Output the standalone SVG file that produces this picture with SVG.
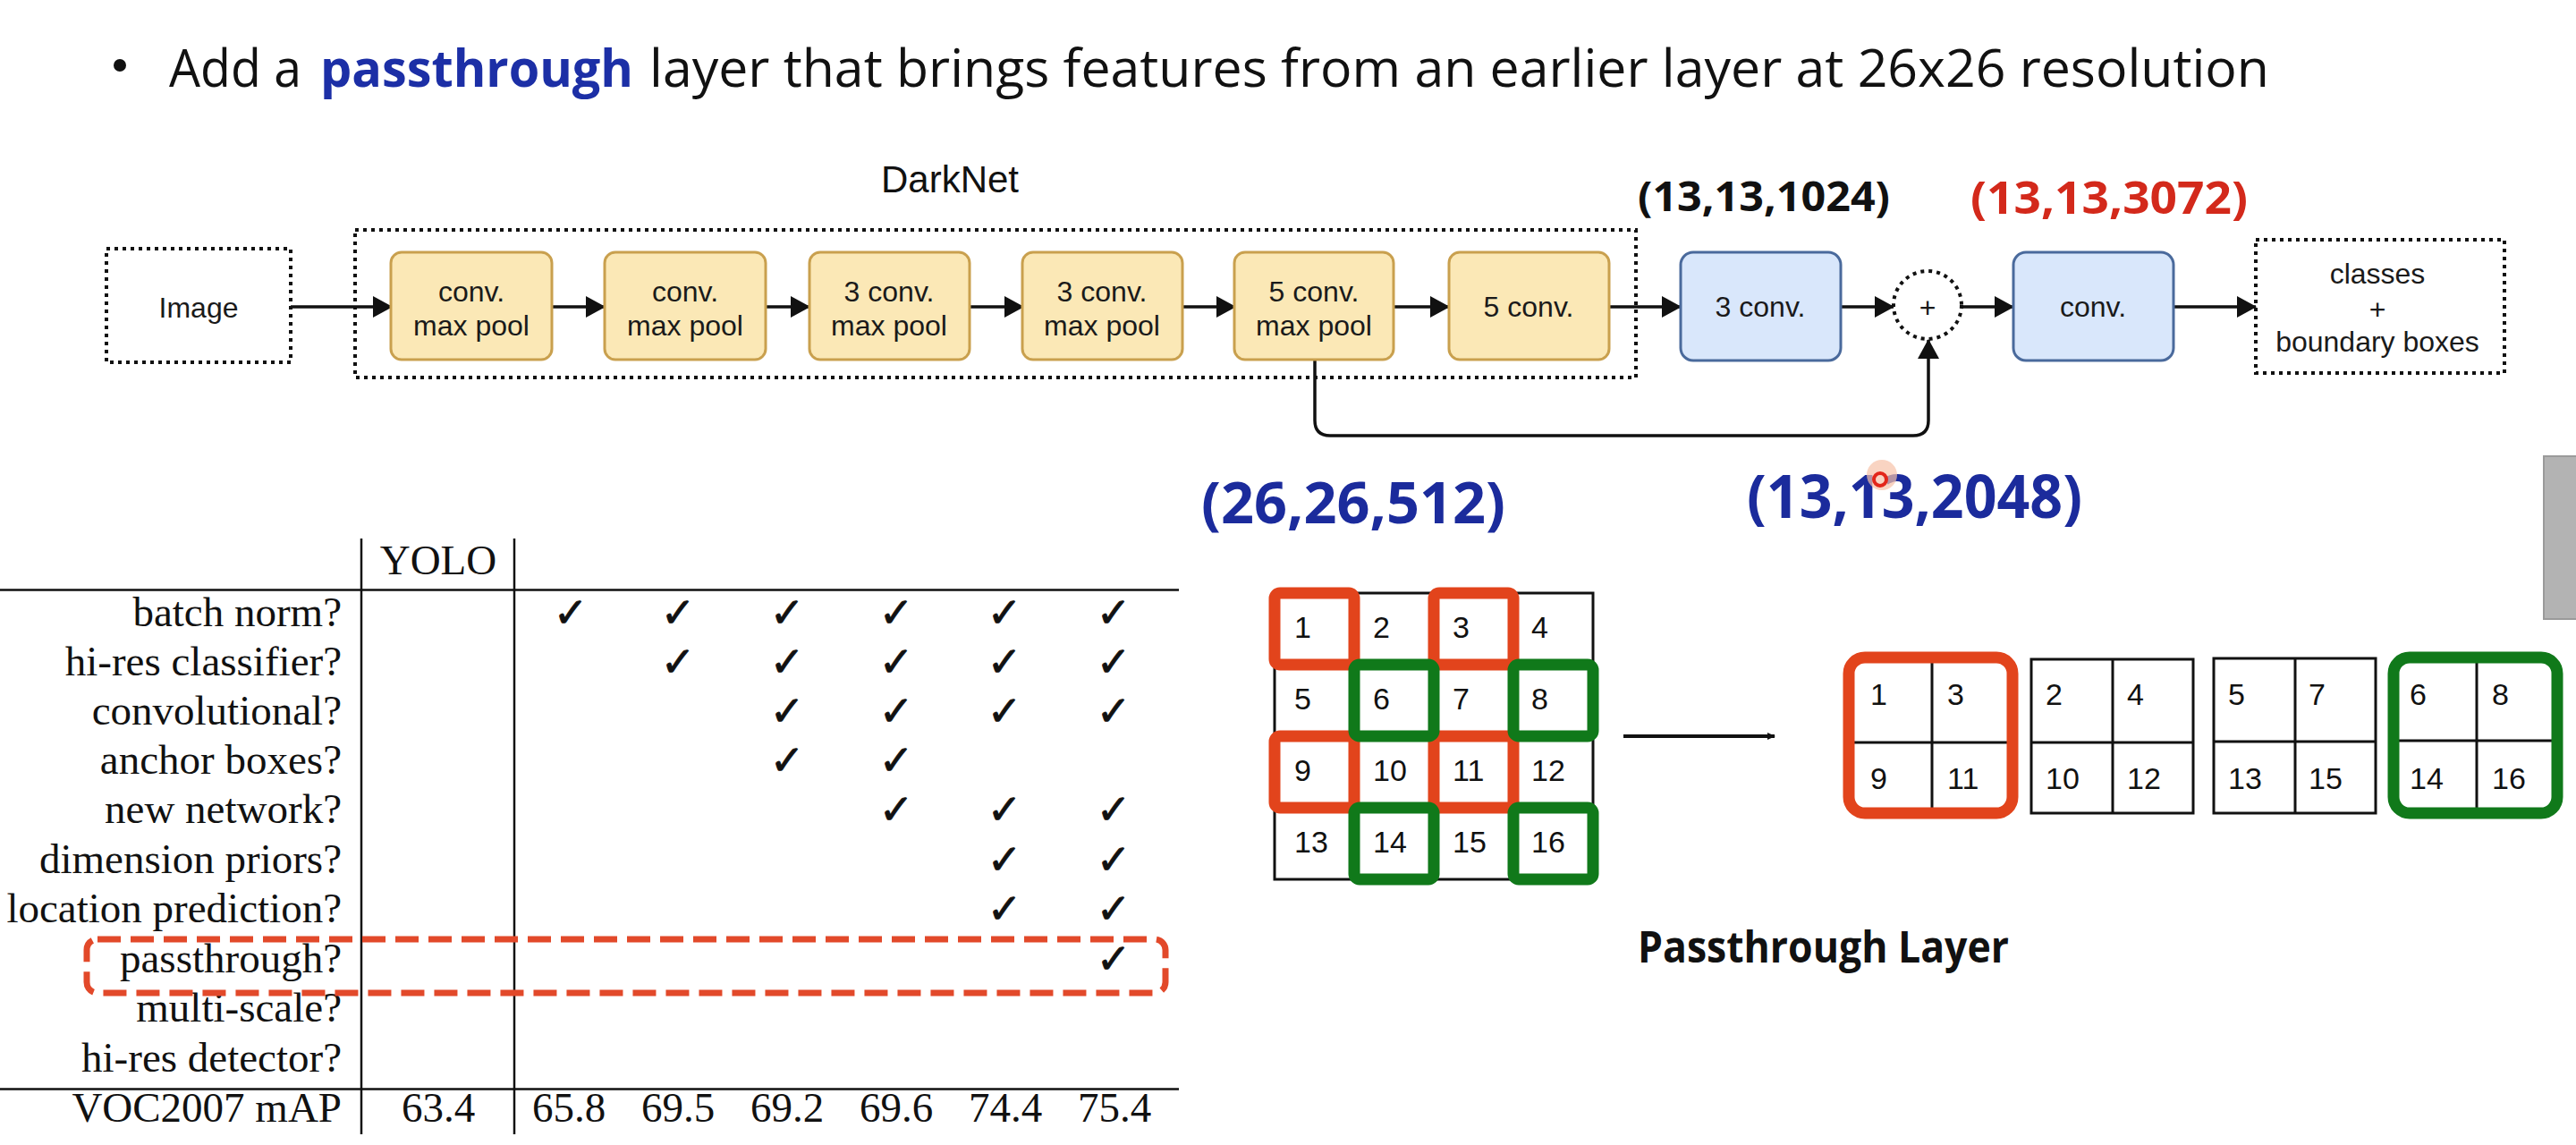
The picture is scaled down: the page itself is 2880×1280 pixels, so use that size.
<svg xmlns="http://www.w3.org/2000/svg" width="2880" height="1280" viewBox="0 0 2880 1280">
<defs>
<style>
.title{font-family:"Open Sans","Noto Sans",sans-serif;font-size:58px;fill:#111}
.blk{fill:#1c2fa6;font-weight:bold}
.lbl{font-family:"Liberation Sans",Arial,sans-serif;font-size:32px;fill:#1a1a1a;text-anchor:middle}
.dark{font-family:"Liberation Sans",Arial,sans-serif;font-size:42px;fill:#111;text-anchor:middle}
.dim{font-family:"Open Sans","Noto Sans",sans-serif;font-weight:bold}
.yb{fill:#fbe8b6;stroke:#c9a04e;stroke-width:3}
.bb{fill:#d9e7fb;stroke:#4a6a9c;stroke-width:3}
.dot{fill:none;stroke:#111;stroke-width:4;stroke-dasharray:4 5}
.con{fill:none;stroke:#111;stroke-width:3.5}
.tl{stroke:#111;stroke-width:2.5}
.tab{font-family:"Liberation Serif","Times New Roman",serif;font-size:47px;fill:#111}
.chk{font-family:"DejaVu Sans",sans-serif;font-size:46px;fill:#111;stroke:#111;stroke-width:1;text-anchor:middle}
.num{font-family:"Liberation Sans",Arial,sans-serif;font-size:34px;fill:#111}
.cell{fill:#fff;stroke:#111;stroke-width:3}
.gl{stroke:#111;stroke-width:3}
.red{fill:none;stroke:#e2441c;stroke-width:13}
.grn{fill:none;stroke:#10791a;stroke-width:13}
</style>
<marker id="ah" markerUnits="userSpaceOnUse" markerWidth="22" markerHeight="24" refX="21" refY="12" orient="auto">
<path d="M0,0 L22,12 L0,24 z" fill="#111"/>
</marker>
<marker id="ahs" markerUnits="userSpaceOnUse" markerWidth="10" markerHeight="10" refX="8" refY="5" orient="auto">
<path d="M0,1 L9,5 L0,9 z" fill="#111"/>
</marker>
</defs>
<rect width="2880" height="1280" fill="#fff"/>

<g id="title">
<circle cx="134" cy="73" r="7" fill="#111"/>
<text class="title" x="189" y="97" textLength="148" lengthAdjust="spacingAndGlyphs">Add a</text>
<text class="title blk" x="358" y="97" textLength="350" lengthAdjust="spacingAndGlyphs">passthrough</text>
<text class="title" x="726" y="97" textLength="1811" lengthAdjust="spacingAndGlyphs">layer that brings features from an earlier layer at 26x26 resolution</text>
</g>

<g id="darknet">
<rect class="dot" x="397" y="257" width="1432" height="165"/>
<text class="dark" x="1062" y="215">DarkNet</text>
</g>

<g id="connectors">
<line class="con" x1="325" y1="343" x2="438" y2="343" marker-end="url(#ah)"/>
<line class="con" x1="617" y1="343" x2="676" y2="343" marker-end="url(#ah)"/>
<line class="con" x1="856" y1="343" x2="905" y2="343" marker-end="url(#ah)"/>
<line class="con" x1="1084" y1="343" x2="1144" y2="343" marker-end="url(#ah)"/>
<line class="con" x1="1322" y1="343" x2="1381" y2="343" marker-end="url(#ah)"/>
<line class="con" x1="1558" y1="343" x2="1620" y2="343" marker-end="url(#ah)"/>
<line class="con" x1="1800" y1="343" x2="1879" y2="343" marker-end="url(#ah)"/>
<line class="con" x1="2058" y1="343" x2="2117" y2="343" marker-end="url(#ah)"/>
<line class="con" x1="2194" y1="343" x2="2251" y2="343" marker-end="url(#ah)"/>
<line class="con" x1="2430" y1="343" x2="2522" y2="343" marker-end="url(#ah)"/>
<path class="con" d="M1470,402 V470 Q1470,487 1487,487 H2139 Q2156,487 2156,470 V380" marker-end="url(#ah)"/>
<line x1="1815" y1="823" x2="1984" y2="823" stroke="#111" stroke-width="4" marker-end="url(#ahs)"/>
</g>

<g id="image">
<rect class="dot" x="119" y="278" width="206" height="127" fill="#f7f7f7"/>
<text class="lbl" x="222" y="355">Image</text>
</g>
<g id="b1"><rect class="yb" x="437" y="282" width="180" height="120" rx="12"/><text class="lbl" x="527" y="337">conv.</text><text class="lbl" x="527" y="375">max pool</text></g>
<g id="b2"><rect class="yb" x="676" y="282" width="180" height="120" rx="12"/><text class="lbl" x="766" y="337">conv.</text><text class="lbl" x="766" y="375">max pool</text></g>
<g id="b3"><rect class="yb" x="905" y="282" width="179" height="120" rx="12"/><text class="lbl" x="994" y="337">3 conv.</text><text class="lbl" x="994" y="375">max pool</text></g>
<g id="b4"><rect class="yb" x="1143" y="282" width="179" height="120" rx="12"/><text class="lbl" x="1232" y="337">3 conv.</text><text class="lbl" x="1232" y="375">max pool</text></g>
<g id="b5"><rect class="yb" x="1380" y="282" width="178" height="120" rx="12"/><text class="lbl" x="1469" y="337">5 conv.</text><text class="lbl" x="1469" y="375">max pool</text></g>
<g id="b6"><rect class="yb" x="1620" y="282" width="179" height="120" rx="12"/><text class="lbl" x="1709" y="354">5 conv.</text></g>
<g id="c1"><rect class="bb" x="1879" y="282" width="179" height="121" rx="14"/><text class="lbl" x="1968" y="354">3 conv.</text></g>
<g id="plus"><circle cx="2155" cy="341" r="38" fill="#fff" stroke="#111" stroke-width="4" stroke-dasharray="4 5"/><text class="lbl" x="2155" y="355" font-size="42">+</text></g>
<g id="c2"><rect class="bb" x="2251" y="282" width="179" height="121" rx="14"/><text class="lbl" x="2340" y="354">conv.</text></g>
<g id="out">
<rect class="dot" x="2522" y="268" width="278" height="149" fill="#f7f7f7"/>
<text class="lbl" x="2658" y="317">classes</text>
<text class="lbl" x="2658" y="357">+</text>
<text class="lbl" x="2658" y="393">boundary boxes</text>
</g>

<g id="dims">
<text class="dim" x="1831" y="236" font-size="46" fill="#111" textLength="282" lengthAdjust="spacingAndGlyphs">(13,13,1024)</text>
<text class="dim" x="2203" y="239" font-size="50" fill="#d3291b" textLength="310" lengthAdjust="spacingAndGlyphs">(13,13,3072)</text>
<text class="dim" x="1343" y="585" font-size="64" fill="#1b2b9c" textLength="340" lengthAdjust="spacingAndGlyphs">(26,26,512)</text>
<text class="dim" x="1953" y="579" font-size="66" fill="#1b2b9c" textLength="375" lengthAdjust="spacingAndGlyphs">(13,13,2048)</text>
<circle cx="2104" cy="531" r="17" fill="#f6c2a8" opacity="0.7"/>
<circle cx="2102" cy="536" r="7" fill="none" stroke="#e3261a" stroke-width="4"/>
</g>

<rect x="2844" y="510" width="40" height="182" fill="#b3b3b3" stroke="#9a9a9a" stroke-width="2"/>

<g id="grid">
<rect class="cell" x="1425" y="663" width="356" height="320"/>
<line class="gl" x1="1514" y1="663" x2="1514" y2="983"/>
<line class="gl" x1="1603" y1="663" x2="1603" y2="983"/>
<line class="gl" x1="1692" y1="663" x2="1692" y2="983"/>
<line class="gl" x1="1425" y1="743" x2="1781" y2="743"/>
<line class="gl" x1="1425" y1="823" x2="1781" y2="823"/>
<line class="gl" x1="1425" y1="903" x2="1781" y2="903"/>
<rect class="red" x="1425" y="663" width="89" height="80" rx="6"/>
<rect class="red" x="1603" y="663" width="89" height="80" rx="6"/>
<rect class="red" x="1425" y="823" width="89" height="80" rx="6"/>
<rect class="red" x="1603" y="823" width="89" height="80" rx="6"/>
<rect class="grn" x="1514" y="743" width="89" height="80" rx="6"/>
<rect class="grn" x="1692" y="743" width="89" height="80" rx="6"/>
<rect class="grn" x="1514" y="903" width="89" height="80" rx="6"/>
<rect class="grn" x="1692" y="903" width="89" height="80" rx="6"/>
<text class="num" x="1447" y="713">1</text><text class="num" x="1535" y="713">2</text><text class="num" x="1624" y="713">3</text><text class="num" x="1712" y="713">4</text>
<text class="num" x="1447" y="793">5</text><text class="num" x="1535" y="793">6</text><text class="num" x="1624" y="793">7</text><text class="num" x="1712" y="793">8</text>
<text class="num" x="1447" y="873">9</text><text class="num" x="1535" y="873">10</text><text class="num" x="1624" y="873">11</text><text class="num" x="1712" y="873">12</text>
<text class="num" x="1447" y="953">13</text><text class="num" x="1535" y="953">14</text><text class="num" x="1624" y="953">15</text><text class="num" x="1712" y="953">16</text>
</g>

<g id="g1">
<rect x="2067" y="735" width="183" height="174" rx="18" fill="#fff"/>
<line class="gl" x1="2160" y1="735" x2="2160" y2="909"/><line class="gl" x1="2067" y1="830" x2="2250" y2="830"/>
<rect class="red" x="2067" y="735" width="183" height="174" rx="18"/>
<text class="num" x="2091" y="788">1</text><text class="num" x="2177" y="788">3</text>
<text class="num" x="2091" y="882">9</text><text class="num" x="2177" y="882">11</text>
</g>
<g id="g2">
<rect class="cell" x="2271" y="737" width="181" height="172"/>
<line class="gl" x1="2362" y1="737" x2="2362" y2="909"/><line class="gl" x1="2271" y1="830" x2="2452" y2="830"/>
<text class="num" x="2287" y="788">2</text><text class="num" x="2378" y="788">4</text>
<text class="num" x="2287" y="882">10</text><text class="num" x="2378" y="882">12</text>
</g>
<g id="g3">
<rect class="cell" x="2475" y="736" width="181" height="173"/>
<line class="gl" x1="2566" y1="736" x2="2566" y2="909"/><line class="gl" x1="2475" y1="829" x2="2656" y2="829"/>
<text class="num" x="2491" y="788">5</text><text class="num" x="2581" y="788">7</text>
<text class="num" x="2491" y="882">13</text><text class="num" x="2581" y="882">15</text>
</g>
<g id="g4">
<rect x="2676" y="735" width="183" height="174" rx="18" fill="#fff"/>
<line class="gl" x1="2769" y1="735" x2="2769" y2="909"/><line class="gl" x1="2676" y1="828" x2="2859" y2="828"/>
<rect class="grn" x="2676" y="735" width="183" height="174" rx="18"/>
<text class="num" x="2694" y="788">6</text><text class="num" x="2786" y="788">8</text>
<text class="num" x="2694" y="882">14</text><text class="num" x="2786" y="882">16</text>
</g>
<text x="1831" y="1076" font-family="'Open Sans','Noto Sans',sans-serif" font-weight="bold" font-size="48" fill="#111" textLength="415" lengthAdjust="spacingAndGlyphs">Passthrough Layer</text>

<g id="table">
<line class="tl" x1="404" y1="602" x2="404" y2="1268"/>
<line class="tl" x1="575" y1="602" x2="575" y2="1268"/>
<line class="tl" x1="0" y1="659.5" x2="1318" y2="659.5"/>
<line class="tl" x1="0" y1="1217.5" x2="1318" y2="1217.5"/>
<text class="tab" x="490" y="642" text-anchor="middle">YOLO</text>
<g text-anchor="end">
<text class="tab" x="382" y="700">batch norm?</text>
<text class="tab" x="382" y="755">hi-res classifier?</text>
<text class="tab" x="382" y="810">convolutional?</text>
<text class="tab" x="382" y="865">anchor boxes?</text>
<text class="tab" x="382" y="920">new network?</text>
<text class="tab" x="382" y="976">dimension priors?</text>
<text class="tab" x="382" y="1031">location prediction?</text>
<text class="tab" x="382" y="1087">passthrough?</text>
<text class="tab" x="382" y="1142">multi-scale?</text>
<text class="tab" x="382" y="1198">hi-res detector?</text>
<text class="tab" x="382" y="1254">VOC2007 mAP</text>
</g>
<g text-anchor="middle">
<text class="tab" x="490" y="1254">63.4</text>
<text class="tab" x="636" y="1254">65.8</text>
<text class="tab" x="758" y="1254">69.5</text>
<text class="tab" x="880" y="1254">69.2</text>
<text class="tab" x="1002" y="1254">69.6</text>
<text class="tab" x="1124" y="1254">74.4</text>
<text class="tab" x="1246" y="1254">75.4</text>
</g>
<g id="checks">
<text class="chk" x="638" y="701">✓</text><text class="chk" x="758" y="701">✓</text><text class="chk" x="880" y="701">✓</text><text class="chk" x="1002" y="701">✓</text><text class="chk" x="1123" y="701">✓</text><text class="chk" x="1245" y="701">✓</text>
<text class="chk" x="758" y="756">✓</text><text class="chk" x="880" y="756">✓</text><text class="chk" x="1002" y="756">✓</text><text class="chk" x="1123" y="756">✓</text><text class="chk" x="1245" y="756">✓</text>
<text class="chk" x="880" y="811">✓</text><text class="chk" x="1002" y="811">✓</text><text class="chk" x="1123" y="811">✓</text><text class="chk" x="1245" y="811">✓</text>
<text class="chk" x="880" y="866">✓</text><text class="chk" x="1002" y="866">✓</text>
<text class="chk" x="1002" y="921">✓</text><text class="chk" x="1123" y="921">✓</text><text class="chk" x="1245" y="921">✓</text>
<text class="chk" x="1123" y="977">✓</text><text class="chk" x="1245" y="977">✓</text>
<text class="chk" x="1123" y="1032">✓</text><text class="chk" x="1245" y="1032">✓</text>
<text class="chk" x="1245" y="1088">✓</text>
</g>
<rect x="97" y="1050" width="1206" height="60" rx="12" fill="none" stroke="#e2492a" stroke-width="7" stroke-dasharray="26 11"/>
</g>
</svg>
